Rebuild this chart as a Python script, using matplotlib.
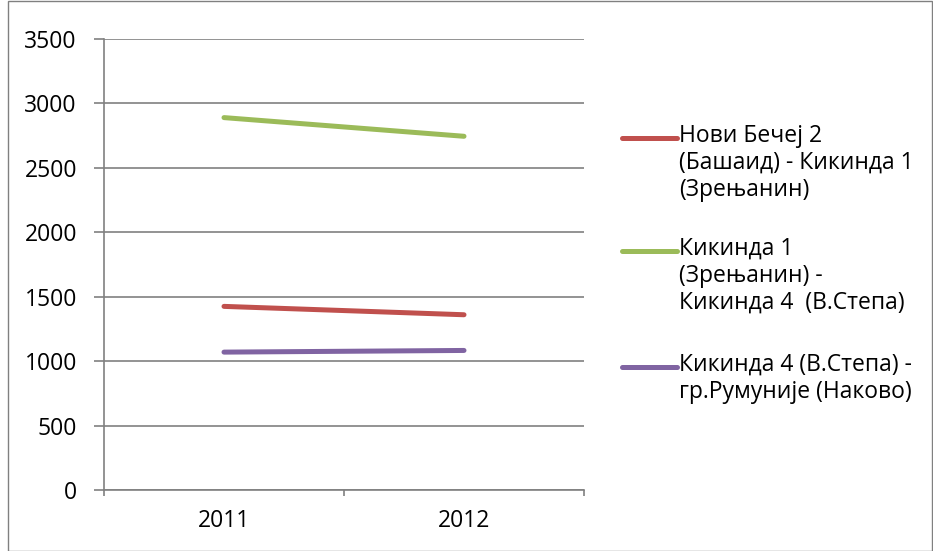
import matplotlib
matplotlib.use("Agg")
import matplotlib.pyplot as plt
from matplotlib.lines import Line2D
from matplotlib.patches import Rectangle

years = ["2011", "2012"]
series_names = [
    "Нови Бечеј 2\n(Башаид) - Кикинда 1\n(Зрењанин)",
    "Кикинда 1\n(Зрењанин) -\nКикинда 4  (В.Степа)",
    "Кикинда 4 (В.Степа) -\nгр.Румуније (Наково)",
]
novi_becej_kikinda = [1425, 1360]
kikinda1_kikinda4 = [2890, 2745]
kikinda4_rumunija = [1070, 1083]
series_values = [novi_becej_kikinda, kikinda1_kikinda4, kikinda4_rumunija]
series_colors = ["#C0504D", "#9BBB59", "#8064A2"]
y_ticks = [0, 500, 1000, 1500, 2000, 2500, 3000, 3500]

plt.rcParams["font.family"] = ["Open Sans", "DejaVu Sans"]
FS = 16.5
LW = 3.6

W, H = 933, 551
fig = plt.figure(figsize=(W / 100, H / 100), dpi=100)

# outer chart frame
fig.add_artist(Rectangle((8 / W, 0.5 / H), (W - 9) / W, (H - 1.5) / H,
                         transform=fig.transFigure, fill=False,
                         edgecolor="#808080", linewidth=1.0))

left, right, top, bottom = 104, 584, 39, 490
ax = fig.add_axes([left / W, 1 - bottom / H, (right - left) / W, (bottom - top) / H])

x = range(len(years))
for vals, col in zip(series_values, series_colors):
    ax.plot(x, vals, color=col, linewidth=LW, solid_capstyle="round")

ax.set_xlim(-0.5, len(years) - 0.5)
ax.set_ylim(0, 3500)
ax.set_yticks(y_ticks)
ax.set_yticklabels([str(v) for v in y_ticks], fontsize=FS)
ax.set_xticks([-0.5, 0.5, 1.5])
ax.set_xticklabels([])
ax.set_xticks(list(x), minor=True)
ax.set_xticklabels(years, minor=True, fontsize=FS)
ax.tick_params(axis="x", which="minor", length=0, pad=14)
ax.tick_params(axis="x", which="major", length=4.5, direction="out", color="#808080", width=1.2)
ax.tick_params(axis="y", length=7.5, direction="out", color="#808080", width=1.2, pad=12)

ax.yaxis.grid(True, color="#808080", linewidth=1.2)
ax.set_axisbelow(True)
for s in ["top", "right"]:
    ax.spines[s].set_visible(False)
for s in ["left", "bottom"]:
    ax.spines[s].set_color("#808080")
    ax.spines[s].set_linewidth(1.2)

# legend with handles aligned to the first text line
entries_y = [138, 251, 367]
line_gap = 27
for name, col, y0 in zip(series_names, series_colors, entries_y):
    fig.add_artist(Line2D([622 / W, 677 / W], [1 - y0 / H, 1 - y0 / H],
                          transform=fig.transFigure, color=col,
                          linewidth=LW, solid_capstyle="round"))
    for i, line in enumerate(name.split("\n")):
        fig.text(679 / W, 1 - (y0 - 2 + i * line_gap) / H, line, fontsize=FS,
                 va="center", ha="left")

fig.savefig("out.png", dpi=100)
